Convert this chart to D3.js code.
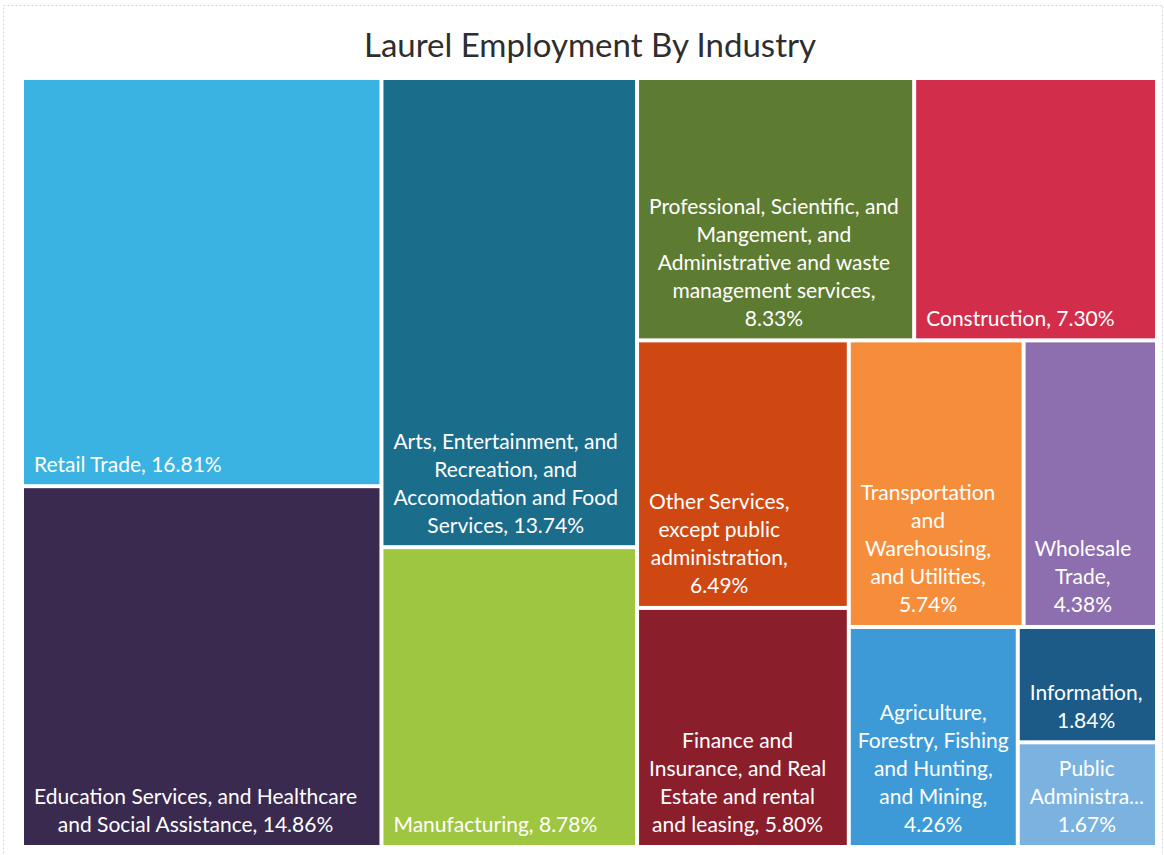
<!DOCTYPE html>
<html>
<head>
<meta charset="utf-8">
<script src="https://cdn.jsdelivr.net/npm/d3@7"></script>
<style>
  html, body { margin: 0; padding: 0; background: #ffffff; }
  svg { display: block; }
</style>
</head>
<body>
<svg id="chart" width="1164" height="855"></svg>
<script>
// ---- Data ----
const title = "Laurel Employment By Industry";

const industries = [
  "Retail Trade",
  "Education Services, and Healthcare and Social Assistance",
  "Arts, Entertainment, and Recreation, and Accomodation and Food Services",
  "Manufacturing",
  "Professional, Scientific, and Mangement, and Administrative and waste management services",
  "Construction",
  "Other Services, except public administration",
  "Finance and Insurance, and Real Estate and rental and leasing",
  "Transportation and Warehousing, and Utilities",
  "Wholesale Trade",
  "Agriculture, Forestry, Fishing and Hunting, and Mining",
  "Information",
  "Public Administration"
];

const shares = [16.81, 14.86, 13.74, 8.78, 8.33, 7.30, 6.49, 5.80, 5.74, 4.38, 4.26, 1.84, 1.67];

// Label lines as they wrap in the original chart
const labelLines = [
  ["Retail Trade, 16.81%"],
  ["Education Services, and Healthcare", "and Social Assistance, 14.86%"],
  ["Arts, Entertainment, and", "Recreation, and", "Accomodation and Food", "Services, 13.74%"],
  ["Manufacturing, 8.78%"],
  ["Professional, Scientific, and", "Mangement, and", "Administrative and waste", "management services,", "8.33%"],
  ["Construction, 7.30%"],
  ["Other Services,", "except public", "administration,", "6.49%"],
  ["Finance and", "Insurance, and Real", "Estate and rental", "and leasing, 5.80%"],
  ["Transportation", "and", "Warehousing,", "and Utilities,", "5.74%"],
  ["Wholesale", "Trade,", "4.38%"],
  ["Agriculture,", "Forestry, Fishing", "and Hunting,", "and Mining,", "4.26%"],
  ["Information,", "1.84%"],
  ["Public", "Administra...", "1.67%"]
];

const colors = [
  "#3ab3e2", "#3a2a50", "#1b6d8c", "#9fc640", "#5e7b32", "#d22d4a", "#cf4812",
  "#8b1e2b", "#f68d3a", "#8d6eae", "#3d9ad6", "#1c5b88", "#7cb2e0"
];

// Grouping of the tiles (split direction, members by index)
const layoutPlan = ["dice", [
  ["slice", [0, 1]],
  ["slice", [2, 3]],
  ["slice", [
    ["dice", [4, 5]],
    ["dice", [
      ["slice", [6, 7]],
      ["slice", [
        ["dice", [8, 9]],
        ["dice", [10, ["slice", [11, 12]]]]
      ]]
    ]]
  ]]
]];

// ---- Build hierarchy ----
function build(p) {
  if (typeof p === "number") {
    return { idx: p, name: industries[p], value: shares[p], color: colors[p], lines: labelLines[p] };
  }
  return { dir: p[0], children: p[1].map(build) };
}

const svg = d3.select("#chart");
const W = 1164, H = 855;

// faint frame
svg.append("rect")
  .attr("x", 3.5).attr("y", 5.5).attr("width", W - 5).attr("height", H - 4)
  .attr("fill", "none").attr("stroke", "#d6d6d6").attr("stroke-width", 1)
  .attr("stroke-dasharray", "2,2");

svg.append("text")
  .attr("x", 590).attr("y", 57)
  .attr("text-anchor", "middle")
  .attr("font-family", "Lato, 'Open Sans', sans-serif")
  .attr("font-size", 33)
  .attr("fill", "#2e2e2e")
  .text(title);

const area = { x: 24, y: 80, w: 1131, h: 765 };

const root = d3.hierarchy(build(layoutPlan))
  .sum(d => d.children ? 0 : d.value);

d3.treemap()
  .size([area.w, area.h])
  .paddingInner(4)
  .tile((node, x0, y0, x1, y1) => {
    (node.data.dir === "dice" ? d3.treemapDice : d3.treemapSlice)(node, x0, y0, x1, y1);
  })(root);

const g = svg.append("g").attr("transform", `translate(${area.x},${area.y})`);

const leaves = g.selectAll("g.leaf")
  .data(root.leaves())
  .join("g")
  .attr("class", "leaf");

leaves.append("rect")
  .attr("x", d => d.x0)
  .attr("y", d => d.y0)
  .attr("width", d => d.x1 - d.x0)
  .attr("height", d => d.y1 - d.y0)
  .attr("fill", d => d.data.color);

const fontSize = 21, lineH = 28;

leaves.each(function(d) {
  const sel = d3.select(this);
  const lines = d.data.lines;
  const t = sel.append("text")
    .attr("font-family", "Lato, 'Open Sans', sans-serif")
    .attr("font-size", fontSize)
    .attr("fill", "#ffffff")
    .attr("text-anchor", "middle");
  const spans = lines.map(l => t.append("tspan").text(l));
  let maxW = 0;
  spans.forEach(s => { maxW = Math.max(maxW, s.node().getComputedTextLength()); });
  const cellW = d.x1 - d.x0;
  const left = d.x0 + Math.min(10, (cellW - maxW) / 2);
  const cx = left + maxW / 2;
  const lastCenter = d.y1 - 20;
  const n = lines.length;
  spans.forEach((s, i) => {
    s.attr("x", cx).attr("y", lastCenter - (n - 1 - i) * lineH + fontSize * 0.35);
  });
});
</script>
</body>
</html>
